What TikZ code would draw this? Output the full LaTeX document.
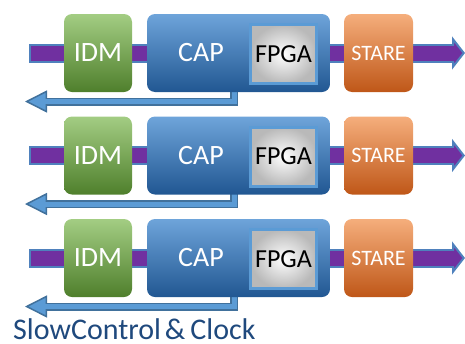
\documentclass[tikz,border=0pt]{standalone}
\usepackage{fontspec}
\setmainfont{Carlito}
\usetikzlibrary{arrows.meta,backgrounds}
\definecolor{barpurple}{HTML}{7030A0}
\definecolor{barblue}{HTML}{4F81BD}
\definecolor{retblue}{HTML}{41719C}
\definecolor{retfill}{HTML}{5B9BD5}
\definecolor{idmtop}{HTML}{A3CD83}
\definecolor{idmbot}{HTML}{4F7F2C}
\definecolor{captop}{HTML}{6EA4DA}
\definecolor{capbot}{HTML}{215792}
\definecolor{staretop}{HTML}{F5AE7C}
\definecolor{starebot}{HTML}{BF5718}
\definecolor{fpgaframe}{HTML}{5B9BD5}
\definecolor{slowtext}{HTML}{1F497D}
\tikzset{
  blok/.style={rounded corners=8pt, minimum height=78pt, inner sep=0pt,
    text=white, font=\fontsize{28}{30}\selectfont},
  idmbox/.style={blok, minimum width=68pt, top color=idmtop, bottom color=idmbot},
  capbox/.style={blok, minimum width=183pt, top color=captop, bottom color=capbot},
  starebox/.style={blok, minimum width=69pt, top color=staretop, bottom color=starebot,
    font=\fontsize{22}{24}\selectfont},
  caplab/.style={text=white, inner sep=0pt, font=\fontsize{28}{30}\selectfont},
  fpgabox/.style={draw=fpgaframe, line width=3pt, minimum width=66pt, minimum height=59pt,
    inner sep=0pt, inner color=white, outer color=gray!55,
    font=\fontsize{26}{28}\selectfont},
  barout/.style={line width=19pt, draw=barblue,
    -{Triangle[line width=2pt, fill=barpurple, length=13pt, width=33pt]}},
  barin/.style={line width=15pt, draw=barpurple, shorten <=2pt, shorten >=9pt},
  retout/.style={line width=8pt, draw=retblue, line join=miter,
    -{Triangle[line width=1.5pt, fill=retfill, length=22pt, width=22pt]}},
  retin/.style={line width=5pt, draw=retfill, line join=miter, shorten >=20pt}
}
\begin{document}
\begin{tikzpicture}[x=1pt,y=-1pt]
  \useasboundingbox (0,0) rectangle (465,343);
  %Khối
  \foreach \r in {0,1,2}{
    \pgfmathsetmacro{\yy}{53+102.5*\r}
    \node[idmbox] (idm\r) at (98,\yy) {IDM};
    \node[capbox] (cap\r) at (238.5,\yy) {};
    \node[caplab] (capl\r) at (201,\yy) {CAP};
    \node[fpgabox] (fpga\r) at (283.5,\yy+1) {FPGA};
    \node[starebox] (stare\r) at (378.5,\yy) {STARE};
    \coordinate (in\r) at (29,\yy);
    \coordinate (out\r) at (465,\yy);
    \coordinate (ret\r) at (25,\yy+48.5);
    %Đường dữ liệu
    \begin{scope}[on background layer]
      \draw[barout] (in\r) -- (out\r);
      \draw[barin] (in\r) -- (out\r);
      \draw[retout] ([xshift=-4.5pt]cap\r.center) |- (ret\r);
      \draw[retin] ([xshift=-4.5pt]cap\r.center) |- (ret\r);
    \end{scope}
  }
  %Nhãn
  \node[anchor=base west, inner sep=0pt, text=slowtext,
    font=\fontsize{30}{32}\selectfont] (slow) at (13,339)
    {SlowControl\hspace{4pt}\&\hspace{5pt}Clock};
\end{tikzpicture}
\end{document}
